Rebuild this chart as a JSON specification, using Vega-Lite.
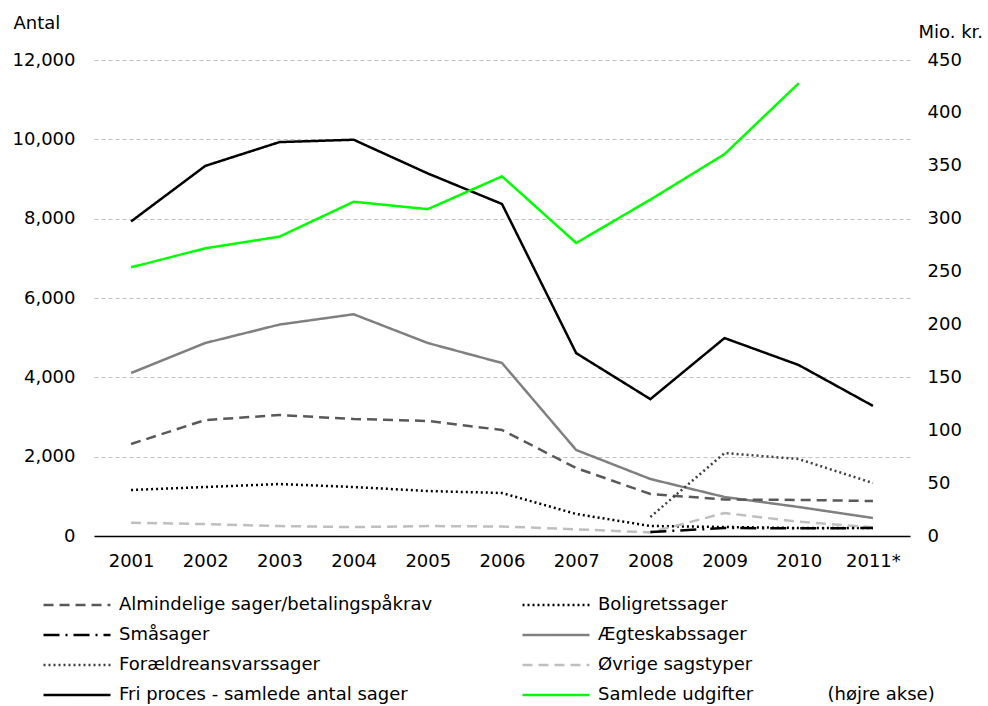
{
  "$schema": "https://vega.github.io/schema/vega-lite/v6.json",
  "width": 816,
  "height": 476,
  "autosize": {"type": "none"},
  "padding": {"left": 94, "top": 60, "right": 78, "bottom": 170},
  "background": "white",
  "config": {
    "font": "DejaVu Sans",
    "view": {"stroke": null},
    "axis": {"labelFont": "DejaVu Sans", "labelFontSize": 18, "labelColor": "#000", "titleFont": "DejaVu Sans", "titleFontSize": 18, "titleFontWeight": "normal", "titleColor": "#000"},
    "legend": {"labelFont": "DejaVu Sans", "labelFontSize": 18, "labelColor": "#000", "labelLimit": 600}
  },
  "data": {
    "values": [
      {"year": "2001", "series": "Fri proces - samlede antal sager", "value": 7930},
      {"year": "2002", "series": "Fri proces - samlede antal sager", "value": 9330},
      {"year": "2003", "series": "Fri proces - samlede antal sager", "value": 9930},
      {"year": "2004", "series": "Fri proces - samlede antal sager", "value": 9990},
      {"year": "2005", "series": "Fri proces - samlede antal sager", "value": 9140},
      {"year": "2006", "series": "Fri proces - samlede antal sager", "value": 8370},
      {"year": "2007", "series": "Fri proces - samlede antal sager", "value": 4610},
      {"year": "2008", "series": "Fri proces - samlede antal sager", "value": 3450},
      {"year": "2009", "series": "Fri proces - samlede antal sager", "value": 4990},
      {"year": "2010", "series": "Fri proces - samlede antal sager", "value": 4310},
      {"year": "2011*", "series": "Fri proces - samlede antal sager", "value": 3280},
      {"year": "2001", "series": "Ægteskabssager", "value": 4110},
      {"year": "2002", "series": "Ægteskabssager", "value": 4865},
      {"year": "2003", "series": "Ægteskabssager", "value": 5330},
      {"year": "2004", "series": "Ægteskabssager", "value": 5590},
      {"year": "2005", "series": "Ægteskabssager", "value": 4865},
      {"year": "2006", "series": "Ægteskabssager", "value": 4361},
      {"year": "2007", "series": "Ægteskabssager", "value": 2168},
      {"year": "2008", "series": "Ægteskabssager", "value": 1437},
      {"year": "2009", "series": "Ægteskabssager", "value": 983},
      {"year": "2010", "series": "Ægteskabssager", "value": 731},
      {"year": "2011*", "series": "Ægteskabssager", "value": 454},
      {"year": "2001", "series": "Almindelige sager/betalingspåkrav", "value": 2319},
      {"year": "2002", "series": "Almindelige sager/betalingspåkrav", "value": 2924},
      {"year": "2003", "series": "Almindelige sager/betalingspåkrav", "value": 3050},
      {"year": "2004", "series": "Almindelige sager/betalingspåkrav", "value": 2950},
      {"year": "2005", "series": "Almindelige sager/betalingspåkrav", "value": 2900},
      {"year": "2006", "series": "Almindelige sager/betalingspåkrav", "value": 2672},
      {"year": "2007", "series": "Almindelige sager/betalingspåkrav", "value": 1714},
      {"year": "2008", "series": "Almindelige sager/betalingspåkrav", "value": 1059},
      {"year": "2009", "series": "Almindelige sager/betalingspåkrav", "value": 920},
      {"year": "2010", "series": "Almindelige sager/betalingspåkrav", "value": 910},
      {"year": "2011*", "series": "Almindelige sager/betalingspåkrav", "value": 880},
      {"year": "2001", "series": "Boligretssager", "value": 1160},
      {"year": "2002", "series": "Boligretssager", "value": 1235},
      {"year": "2003", "series": "Boligretssager", "value": 1310},
      {"year": "2004", "series": "Boligretssager", "value": 1235},
      {"year": "2005", "series": "Boligretssager", "value": 1134},
      {"year": "2006", "series": "Boligretssager", "value": 1084},
      {"year": "2007", "series": "Boligretssager", "value": 555},
      {"year": "2008", "series": "Boligretssager", "value": 252},
      {"year": "2009", "series": "Boligretssager", "value": 227},
      {"year": "2010", "series": "Boligretssager", "value": 202},
      {"year": "2011*", "series": "Boligretssager", "value": 202},
      {"year": "2008", "series": "Forældreansvarssager", "value": 480},
      {"year": "2009", "series": "Forældreansvarssager", "value": 2092},
      {"year": "2010", "series": "Forældreansvarssager", "value": 1940},
      {"year": "2011*", "series": "Forældreansvarssager", "value": 1336},
      {"year": "2001", "series": "Øvrige sagstyper", "value": 335},
      {"year": "2002", "series": "Øvrige sagstyper", "value": 300},
      {"year": "2003", "series": "Øvrige sagstyper", "value": 250},
      {"year": "2004", "series": "Øvrige sagstyper", "value": 225},
      {"year": "2005", "series": "Øvrige sagstyper", "value": 250},
      {"year": "2006", "series": "Øvrige sagstyper", "value": 240},
      {"year": "2007", "series": "Øvrige sagstyper", "value": 170},
      {"year": "2008", "series": "Øvrige sagstyper", "value": 90},
      {"year": "2009", "series": "Øvrige sagstyper", "value": 580},
      {"year": "2010", "series": "Øvrige sagstyper", "value": 360},
      {"year": "2011*", "series": "Øvrige sagstyper", "value": 220},
      {"year": "2008", "series": "Småsager", "value": 100},
      {"year": "2009", "series": "Småsager", "value": 200},
      {"year": "2010", "series": "Småsager", "value": 195},
      {"year": "2011*", "series": "Småsager", "value": 200},
      {"year": "2001", "series": "Samlede udgifter", "value": 254},
      {"year": "2002", "series": "Samlede udgifter", "value": 272},
      {"year": "2003", "series": "Samlede udgifter", "value": 283},
      {"year": "2004", "series": "Samlede udgifter", "value": 316},
      {"year": "2005", "series": "Samlede udgifter", "value": 309},
      {"year": "2006", "series": "Samlede udgifter", "value": 340},
      {"year": "2007", "series": "Samlede udgifter", "value": 277},
      {"year": "2008", "series": "Samlede udgifter", "value": 318},
      {"year": "2009", "series": "Samlede udgifter", "value": 361},
      {"year": "2010", "series": "Samlede udgifter", "value": 428}
    ]
  },
  "encoding": {
    "x": {
      "field": "year", "type": "ordinal",
      "scale": {"type": "point", "padding": 0.5},
      "axis": {"title": null, "labelAngle": 0, "ticks": false, "labelPadding": 16, "domainColor": "#000", "domainWidth": 1.5, "grid": false}
    },
    "color": {
      "field": "series", "type": "nominal",
      "scale": {
        "domain": ["Almindelige sager/betalingspåkrav", "Småsager", "Forældreansvarssager", "Fri proces - samlede antal sager", "Boligretssager", "Ægteskabssager", "Øvrige sagstyper", "Samlede udgifter"],
        "range": ["#595959", "#000000", "#404040", "#000000", "#000000", "#808080", "#bfbfbf", "#00ff00"]
      },
      "legend": {
        "title": null, "orient": "none", "legendX": -35, "legendY": 527, "columns": 2, "symbolType": "M-2,0H2", "symbolSize": 1122, "symbolStrokeWidth": 2.5, "rowPadding": 3, "columnPadding": 84, "labelOffset": 24,
        "labelExpr": "datum.label == 'Samlede udgifter' ? 'Samlede udgifter\u00a0\u00a0\u00a0\u00a0\u00a0\u00a0\u00a0\u00a0\u00a0\u00a0\u00a0\u00a0\u00a0(højre akse)' : datum.label"
      }
    },
    "strokeDash": {
      "field": "series", "type": "nominal",
      "scale": {
        "domain": ["Almindelige sager/betalingspåkrav", "Småsager", "Forældreansvarssager", "Fri proces - samlede antal sager", "Boligretssager", "Ægteskabssager", "Øvrige sagstyper", "Samlede udgifter"],
        "range": [[10, 6], [16, 6, 2, 6], [2, 3], [1, 0], [2, 3], [1, 0], [10, 6], [1, 0]]
      },
      "legend": {
        "title": null, "orient": "none", "legendX": -35, "legendY": 527, "columns": 2, "symbolType": "M-2,0H2", "symbolSize": 1122, "symbolStrokeWidth": 2.5, "rowPadding": 3, "columnPadding": 84, "labelOffset": 24,
        "labelExpr": "datum.label == 'Samlede udgifter' ? 'Samlede udgifter\u00a0\u00a0\u00a0\u00a0\u00a0\u00a0\u00a0\u00a0\u00a0\u00a0\u00a0\u00a0\u00a0(højre akse)' : datum.label"
      }
    }
  },
  "layer": [
    {
      "transform": [{"filter": "datum.series != 'Samlede udgifter'"}],
      "mark": {"type": "line", "strokeWidth": 2.5},
      "encoding": {
        "y": {
          "field": "value", "type": "quantitative",
          "scale": {"domain": [0, 12000], "nice": false},
          "axis": {"title": "Antal", "values": [0, 2000, 4000, 6000, 8000, 10000, 12000], "format": ",.0f", "domain": false, "ticks": false, "labelPadding": 19, "grid": true, "gridColor": "#c0c0c0", "gridDash": [4, 3], "gridWidth": 1, "titleAngle": 0, "titleAlign": "left", "titleBaseline": "middle", "titleX": -81, "titleY": -37}
        }
      }
    },
    {
      "transform": [{"filter": "datum.series == 'Samlede udgifter'"}],
      "mark": {"type": "line", "strokeWidth": 2.5},
      "encoding": {
        "y": {
          "field": "value", "type": "quantitative",
          "scale": {"domain": [0, 450], "nice": false},
          "axis": {"orient": "right", "title": "Mio. kr.", "values": [0, 50, 100, 150, 200, 250, 300, 350, 400, 450], "domain": false, "ticks": false, "labelPadding": 17, "grid": false, "titleAngle": 0, "titleAlign": "left", "titleBaseline": "middle", "titleX": 8, "titleY": -28}
        }
      }
    }
  ],
  "resolve": {"scale": {"y": "independent"}}
}
